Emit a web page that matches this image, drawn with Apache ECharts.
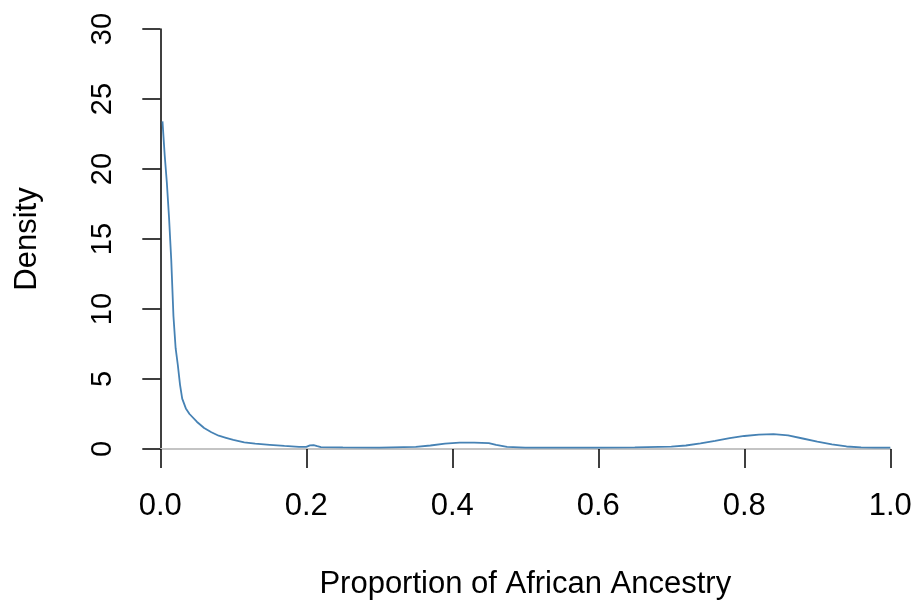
<!DOCTYPE html>
<html>
<head>
<meta charset="utf-8">
<script src="https://cdn.jsdelivr.net/npm/echarts@6/dist/echarts.min.js"></script>
<style>
  html, body { margin: 0; padding: 0; background: #fff; }
  #chart { width: 915px; height: 605px; }
</style>
</head>
<body>
<div id="chart"></div>
<script>
// Kernel density estimate of the proportion of African ancestry
const ancestry = [0.003, 0.006, 0.009, 0.012, 0.015, 0.018, 0.021, 0.024, 0.027, 0.030,
  0.035, 0.04, 0.05, 0.06, 0.07, 0.08, 0.09, 0.10, 0.115, 0.13, 0.15, 0.17, 0.19, 0.2,
  0.205, 0.21, 0.215, 0.22, 0.25, 0.3, 0.35, 0.37, 0.39, 0.41, 0.43, 0.45, 0.46, 0.475,
  0.5, 0.55, 0.6, 0.65, 0.7, 0.72, 0.74, 0.76, 0.78, 0.8, 0.82, 0.84, 0.86, 0.88, 0.9,
  0.92, 0.94, 0.96, 0.98, 1.0];
const density = [23.4, 21.0, 19.0, 16.5, 13.5, 9.5, 7.2, 6.0, 4.6, 3.6,
  2.9, 2.5, 1.95, 1.5, 1.2, 0.95, 0.8, 0.65, 0.48, 0.38, 0.3, 0.22, 0.15, 0.15,
  0.26, 0.28, 0.2, 0.14, 0.12, 0.1, 0.15, 0.25, 0.38, 0.45, 0.46, 0.42, 0.3, 0.15,
  0.1, 0.1, 0.1, 0.12, 0.17, 0.25, 0.4, 0.58, 0.78, 0.93, 1.03, 1.06, 0.98, 0.75, 0.52,
  0.33, 0.18, 0.12, 0.1, 0.1];
const xTicks = { min: 0, max: 1, step: 0.2 };
const yTicks = { min: 0, max: 30, step: 5 };

const font = 'Liberation Sans, Arial, sans-serif';
const chart = echarts.init(document.getElementById('chart'), null, { renderer: 'canvas' });

chart.setOption({
  animation: false,
  backgroundColor: '#ffffff',
  grid: { left: 160.3, right: 24.7, top: 29, bottom: 156 },
  xAxis: {
    type: 'value',
    min: xTicks.min, max: xTicks.max, interval: xTicks.step,
    name: 'Proportion of African Ancestry',
    nameLocation: 'middle',
    nameGap: 120,
    nameTextStyle: { fontFamily: font, fontSize: 31, color: '#000' },
    axisLine: { show: true, onZero: false, lineStyle: { color: '#c4c4c4', width: 2 } },
    axisTick: { show: true, length: 19, lineStyle: { color: '#000', width: 1.5 } },
    axisLabel: {
      fontFamily: font, fontSize: 31, color: '#000', margin: 42,
      formatter: v => v.toFixed(1)
    },
    splitLine: { show: false }
  },
  yAxis: {
    type: 'value',
    min: yTicks.min, max: yTicks.max, interval: yTicks.step,
    name: 'Density',
    nameLocation: 'middle',
    nameGap: 117,
    nameTextStyle: { fontFamily: font, fontSize: 31, color: '#000' },
    axisLine: { show: true, lineStyle: { color: '#000', width: 1.5 } },
    axisTick: { show: true, length: 18, lineStyle: { color: '#000', width: 1.5 } },
    axisLabel: {
      fontFamily: font, fontSize: 29, color: '#000', margin: 43, rotate: 90
    },
    splitLine: { show: false }
  },
  series: [{
    type: 'line',
    data: ancestry.map((x, i) => [x, density[i]]),
    showSymbol: false,
    smooth: false,
    lineStyle: { color: '#4682B4', width: 1.8 },
    z: 3
  }]
});
</script>
</body>
</html>
